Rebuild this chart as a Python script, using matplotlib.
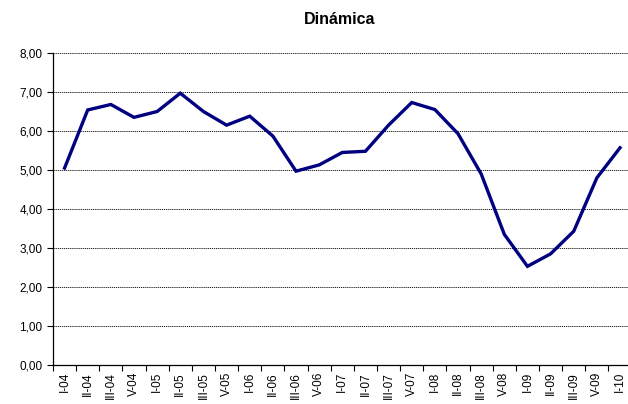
import matplotlib
matplotlib.use("Agg")
import matplotlib.pyplot as plt
import numpy as np

labels = ["I-04", "II-04", "III-04", "V-04", "I-05", "II-05", "III-05", "V-05",
          "I-06", "II-06", "III-06", "V-06", "I-07", "II-07", "III-07", "V-07",
          "I-08", "II-08", "III-08", "V-08", "I-09", "II-09", "III-09", "V-09", "I-10"]
values = [5.05, 6.54, 6.68, 6.35, 6.50, 6.97, 6.50, 6.15,
          6.38, 5.87, 4.97, 5.13, 5.45, 5.48, 6.15, 6.73,
          6.55, 5.93, 4.90, 3.35, 2.53, 2.85, 3.43, 4.80, 5.57]
yticks = [0, 1, 2, 3, 4, 5, 6, 7, 8]

plt.rcParams['font.family'] = ['Liberation Sans', 'DejaVu Sans']

fig = plt.figure(figsize=(6.28, 4.04), dpi=100)
ax = fig.add_axes([53/628, 1-365/404, 578.6/628, (365-53)/404])

x = np.arange(len(values))
ax.plot(x, values, color='#000080', linewidth=2.4, solid_joinstyle='miter', clip_on=False)

ax.set_ylim(0, 8)
ax.set_xlim(-0.5, len(values) - 0.5)
ax.set_yticks(yticks)
ax.set_yticklabels([f"{v:.2f}".replace('.', ',') for v in yticks], fontsize=8.5)
ax.yaxis.grid(True, color='black', linestyle=(0, (1.5, 1)), linewidth=0.6)
ax.set_axisbelow(True)

ax.set_xticks(np.arange(len(values) + 1) - 0.5)
ax.set_xticklabels([])
ax.set_xticks(x, minor=True)
ax.set_xticklabels(labels, minor=True, rotation=90, fontsize=8.5)
ax.tick_params(axis='x', which='minor', length=0, pad=5)
ax.tick_params(axis='x', which='major', length=4, direction='out', width=0.8)
ax.tick_params(axis='y', length=4, direction='out', width=0.8)

for s in ['top', 'right']:
    ax.spines[s].set_visible(False)
for s in ['left', 'bottom']:
    ax.spines[s].set_linewidth(0.9)

fig.text(340/628, 1 - 20/404, "Dinámica", ha='center', va='center', fontsize=11.5, fontweight='bold')

fig.savefig("out.png", dpi=100)
